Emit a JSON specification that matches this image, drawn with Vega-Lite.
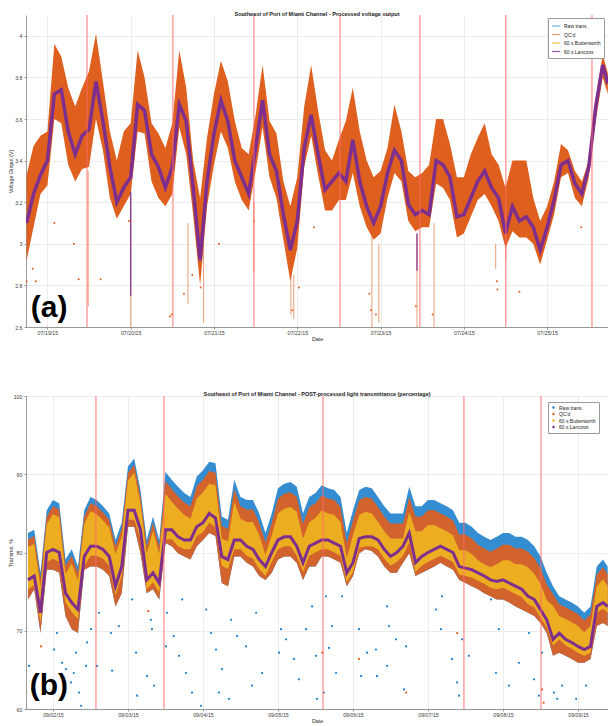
{
"$schema": "https://vega.github.io/schema/vega-lite/v6.json",
"padding": {"left": 8, "top": 11, "right": 0, "bottom": 0},
"spacing": 48,
"config": {
 "font": "Liberation Sans",
 "view": {"stroke": null},
 "title": {"fontSize": 5.5, "fontWeight": "bold", "color": "#1a1a1a", "offset": -3},
 "axis": {"labelFontSize": 5.3, "titleFontSize": 5.3, "titleFontWeight": "normal", "labelColor": "#404040", "titleColor": "#262626", "domainColor": "#808080", "tickColor": "#808080", "tickSize": 2, "labelPadding": 2, "titlePadding": 2, "gridColor": "#e5e5e5", "gridWidth": 0.7, "domainWidth": 0.8, "tickWidth": 0.8},
 "axisX": {"labelPadding": 1.5, "titlePadding": 1},
 "axisY": {"minExtent": 12, "maxExtent": 12, "titlePadding": 1},
 "legend": {"labelFontSize": 5, "labelColor": "#222222", "fillColor": "#ffffff", "strokeColor": "#9a9a9a", "padding": 3, "rowPadding": 0.5, "labelOffset": 3}
},
"resolve": {"scale": {"color": "independent"}},
"datasets": {
 "va": [
{"t":"2015-07-18T18:00Z","lo":2.92,"hi":3.33,"m":3.1},
{"t":"2015-07-18T20:00Z","lo":3.08,"hi":3.47,"m":3.24},
{"t":"2015-07-18T22:00Z","lo":3.24,"hi":3.52,"m":3.33},
{"t":"2015-07-19T00:00Z","lo":3.28,"hi":3.54,"m":3.4},
{"t":"2015-07-19T02:00Z","lo":3.6,"hi":3.96,"m":3.72},
{"t":"2015-07-19T04:00Z","lo":3.58,"hi":3.9,"m":3.74},
{"t":"2015-07-19T06:00Z","lo":3.38,"hi":3.75,"m":3.54},
{"t":"2015-07-19T08:00Z","lo":3.3,"hi":3.66,"m":3.43},
{"t":"2015-07-19T10:00Z","lo":3.36,"hi":3.75,"m":3.52},
{"t":"2015-07-19T12:00Z","lo":3.37,"hi":3.83,"m":3.55},
{"t":"2015-07-19T14:00Z","lo":3.6,"hi":4.01,"m":3.78},
{"t":"2015-07-19T16:00Z","lo":3.45,"hi":3.78,"m":3.59},
{"t":"2015-07-19T18:00Z","lo":3.22,"hi":3.54,"m":3.37},
{"t":"2015-07-19T20:00Z","lo":3.12,"hi":3.4,"m":3.2},
{"t":"2015-07-19T22:00Z","lo":3.18,"hi":3.54,"m":3.27},
{"t":"2015-07-20T00:00Z","lo":3.24,"hi":3.58,"m":3.32},
{"t":"2015-07-20T02:00Z","lo":3.54,"hi":3.93,"m":3.67},
{"t":"2015-07-20T04:00Z","lo":3.53,"hi":3.8,"m":3.64},
{"t":"2015-07-20T06:00Z","lo":3.3,"hi":3.58,"m":3.43},
{"t":"2015-07-20T08:00Z","lo":3.22,"hi":3.53,"m":3.37},
{"t":"2015-07-20T10:00Z","lo":3.18,"hi":3.46,"m":3.27},
{"t":"2015-07-20T12:00Z","lo":3.24,"hi":3.58,"m":3.37},
{"t":"2015-07-20T14:00Z","lo":3.56,"hi":3.93,"m":3.67},
{"t":"2015-07-20T16:00Z","lo":3.43,"hi":3.75,"m":3.59},
{"t":"2015-07-20T18:00Z","lo":3.14,"hi":3.4,"m":3.27},
{"t":"2015-07-20T20:00Z","lo":2.8,"hi":3.22,"m":2.92},
{"t":"2015-07-20T22:00Z","lo":3.18,"hi":3.51,"m":3.3},
{"t":"2015-07-21T00:00Z","lo":3.38,"hi":3.72,"m":3.53},
{"t":"2015-07-21T02:00Z","lo":3.54,"hi":3.88,"m":3.69},
{"t":"2015-07-21T04:00Z","lo":3.46,"hi":3.78,"m":3.59},
{"t":"2015-07-21T06:00Z","lo":3.3,"hi":3.59,"m":3.4},
{"t":"2015-07-21T08:00Z","lo":3.21,"hi":3.46,"m":3.32},
{"t":"2015-07-21T10:00Z","lo":3.16,"hi":3.43,"m":3.24},
{"t":"2015-07-21T12:00Z","lo":3.35,"hi":3.62,"m":3.46},
{"t":"2015-07-21T14:00Z","lo":3.56,"hi":3.86,"m":3.69},
{"t":"2015-07-21T16:00Z","lo":3.32,"hi":3.59,"m":3.43},
{"t":"2015-07-21T18:00Z","lo":3.22,"hi":3.53,"m":3.35},
{"t":"2015-07-21T20:00Z","lo":3.02,"hi":3.3,"m":3.14},
{"t":"2015-07-21T22:00Z","lo":2.82,"hi":3.18,"m":2.97},
{"t":"2015-07-22T00:00Z","lo":2.98,"hi":3.32,"m":3.11},
{"t":"2015-07-22T02:00Z","lo":3.37,"hi":3.66,"m":3.46},
{"t":"2015-07-22T04:00Z","lo":3.52,"hi":3.86,"m":3.62},
{"t":"2015-07-22T06:00Z","lo":3.33,"hi":3.64,"m":3.43},
{"t":"2015-07-22T08:00Z","lo":3.16,"hi":3.45,"m":3.26},
{"t":"2015-07-22T10:00Z","lo":3.16,"hi":3.4,"m":3.3},
{"t":"2015-07-22T12:00Z","lo":3.21,"hi":3.5,"m":3.34},
{"t":"2015-07-22T14:00Z","lo":3.21,"hi":3.59,"m":3.3},
{"t":"2015-07-22T16:00Z","lo":3.34,"hi":3.75,"m":3.5},
{"t":"2015-07-22T18:00Z","lo":3.18,"hi":3.54,"m":3.3},
{"t":"2015-07-22T20:00Z","lo":3.08,"hi":3.4,"m":3.18},
{"t":"2015-07-22T22:00Z","lo":3.02,"hi":3.32,"m":3.1},
{"t":"2015-07-23T00:00Z","lo":3.05,"hi":3.35,"m":3.18},
{"t":"2015-07-23T02:00Z","lo":3.22,"hi":3.46,"m":3.34},
{"t":"2015-07-23T04:00Z","lo":3.34,"hi":3.67,"m":3.45},
{"t":"2015-07-23T06:00Z","lo":3.3,"hi":3.54,"m":3.4},
{"t":"2015-07-23T08:00Z","lo":3.11,"hi":3.35,"m":3.19},
{"t":"2015-07-23T10:00Z","lo":3.06,"hi":3.32,"m":3.14},
{"t":"2015-07-23T12:00Z","lo":3.08,"hi":3.34,"m":3.16},
{"t":"2015-07-23T14:00Z","lo":3.08,"hi":3.38,"m":3.14},
{"t":"2015-07-23T16:00Z","lo":3.29,"hi":3.6,"m":3.4},
{"t":"2015-07-23T18:00Z","lo":3.27,"hi":3.6,"m":3.38},
{"t":"2015-07-23T20:00Z","lo":3.21,"hi":3.48,"m":3.32},
{"t":"2015-07-23T22:00Z","lo":3.03,"hi":3.32,"m":3.13},
{"t":"2015-07-24T00:00Z","lo":3.05,"hi":3.32,"m":3.14},
{"t":"2015-07-24T02:00Z","lo":3.13,"hi":3.43,"m":3.22},
{"t":"2015-07-24T04:00Z","lo":3.21,"hi":3.51,"m":3.3},
{"t":"2015-07-24T06:00Z","lo":3.24,"hi":3.58,"m":3.35},
{"t":"2015-07-24T08:00Z","lo":3.18,"hi":3.43,"m":3.27},
{"t":"2015-07-24T10:00Z","lo":3.11,"hi":3.38,"m":3.22},
{"t":"2015-07-24T12:00Z","lo":2.98,"hi":3.27,"m":3.05},
{"t":"2015-07-24T14:00Z","lo":3.06,"hi":3.4,"m":3.18},
{"t":"2015-07-24T16:00Z","lo":3.03,"hi":3.4,"m":3.11},
{"t":"2015-07-24T18:00Z","lo":3.03,"hi":3.4,"m":3.13},
{"t":"2015-07-24T20:00Z","lo":3.0,"hi":3.22,"m":3.08},
{"t":"2015-07-24T22:00Z","lo":2.9,"hi":3.11,"m":2.97},
{"t":"2015-07-25T00:00Z","lo":3.02,"hi":3.18,"m":3.08},
{"t":"2015-07-25T02:00Z","lo":3.14,"hi":3.3,"m":3.21},
{"t":"2015-07-25T04:00Z","lo":3.32,"hi":3.48,"m":3.38},
{"t":"2015-07-25T06:00Z","lo":3.34,"hi":3.45,"m":3.4},
{"t":"2015-07-25T08:00Z","lo":3.22,"hi":3.35,"m":3.29},
{"t":"2015-07-25T10:00Z","lo":3.18,"hi":3.3,"m":3.24},
{"t":"2015-07-25T12:00Z","lo":3.32,"hi":3.4,"m":3.37},
{"t":"2015-07-25T14:00Z","lo":3.59,"hi":3.7,"m":3.66},
{"t":"2015-07-25T16:00Z","lo":3.8,"hi":3.91,"m":3.86},
{"t":"2015-07-25T17:30Z","lo":3.72,"hi":3.82,"m":3.77}
 ],
 "sa": [
{"t":"2015-07-19T11:45Z","lo":2.7,"hi":3.35},
{"t":"2015-07-20T00:00Z","lo":2.6,"hi":3.22},
{"t":"2015-07-20T16:30Z","lo":2.71,"hi":3.1},
{"t":"2015-07-20T21:00Z","lo":2.62,"hi":3.0},
{"t":"2015-07-21T11:30Z","lo":2.86,"hi":3.2},
{"t":"2015-07-21T22:10Z","lo":2.66,"hi":2.9},
{"t":"2015-07-21T23:00Z","lo":2.64,"hi":2.85},
{"t":"2015-07-22T21:30Z","lo":2.6,"hi":3.05},
{"t":"2015-07-22T23:30Z","lo":2.62,"hi":3.0},
{"t":"2015-07-23T10:30Z","lo":2.6,"hi":3.05},
{"t":"2015-07-23T15:25Z","lo":2.6,"hi":3.1},
{"t":"2015-07-24T09:10Z","lo":2.88,"hi":3.0},
{"t":"2015-07-24T12:05Z","lo":2.92,"hi":3.0}
 ],
 "spa": [
{"t":"2015-07-20T00:00Z","lo":2.75,"hi":3.25},
{"t":"2015-07-23T10:30Z","lo":2.87,"hi":3.05}
 ],
 "oa": [
{"t":"2015-07-18T18:00Z","v":2.82},
{"t":"2015-07-18T19:45Z","v":2.88},
{"t":"2015-07-18T20:40Z","v":2.82},
{"t":"2015-07-19T02:00Z","v":3.1},
{"t":"2015-07-19T07:40Z","v":3.0},
{"t":"2015-07-19T09:00Z","v":2.83},
{"t":"2015-07-19T15:20Z","v":2.83},
{"t":"2015-07-19T23:30Z","v":3.11},
{"t":"2015-07-20T11:20Z","v":2.65},
{"t":"2015-07-20T11:50Z","v":2.66},
{"t":"2015-07-20T15:20Z","v":2.76},
{"t":"2015-07-20T17:45Z","v":2.85},
{"t":"2015-07-20T20:10Z","v":2.79},
{"t":"2015-07-21T01:25Z","v":3.0},
{"t":"2015-07-21T11:30Z","v":3.11},
{"t":"2015-07-21T22:35Z","v":2.68},
{"t":"2015-07-22T00:30Z","v":2.79},
{"t":"2015-07-22T04:50Z","v":3.08},
{"t":"2015-07-22T20:45Z","v":2.76},
{"t":"2015-07-22T21:15Z","v":2.68},
{"t":"2015-07-22T22:40Z","v":2.66},
{"t":"2015-07-23T10:10Z","v":2.7},
{"t":"2015-07-23T15:00Z","v":2.66},
{"t":"2015-07-24T09:30Z","v":2.82},
{"t":"2015-07-24T09:40Z","v":2.78},
{"t":"2015-07-24T16:00Z","v":2.77},
{"t":"2015-07-25T09:50Z","v":3.08}
 ],
 "ra": [
{"t":"2015-07-19T11:25Z"},{"t":"2015-07-20T12:10Z"},{"t":"2015-07-21T11:30Z"},{"t":"2015-07-22T12:20Z"},{"t":"2015-07-23T11:20Z"},{"t":"2015-07-24T12:05Z"},{"t":"2015-07-25T12:55Z"}
 ],
 "la": [{"t":"2015-07-19T00:30Z","v":2.648,"txt":"(a)"}],
 "vb": [
{"t":"2015-09-01T16:00Z","hi":82.5,"qh":81.7,"yh":80.7,"yl":75.3,"m":76.5,"lo":74},
{"t":"2015-09-01T18:00Z","hi":82.9,"qh":82.1,"yh":81.1,"yl":75.8,"m":77,"lo":75.3},
{"t":"2015-09-01T20:00Z","hi":77.4,"qh":76.6,"yh":75.6,"yl":71.1,"m":72.3,"lo":69.7},
{"t":"2015-09-01T22:00Z","hi":85.4,"qh":84.6,"yh":83.6,"yl":78.8,"m":80,"lo":77.8},
{"t":"2015-09-02T00:00Z","hi":86.7,"qh":85.9,"yh":84.9,"yl":79.2,"m":80.4,"lo":77.8},
{"t":"2015-09-02T02:00Z","hi":86.3,"qh":85.5,"yh":84.5,"yl":78.8,"m":80,"lo":77.4},
{"t":"2015-09-02T04:00Z","hi":79.1,"qh":78.3,"yh":77.3,"yl":73.6,"m":74.8,"lo":71.9},
{"t":"2015-09-02T06:00Z","hi":80.4,"qh":79.6,"yh":78.6,"yl":72.4,"m":73.6,"lo":70.2},
{"t":"2015-09-02T08:00Z","hi":78.2,"qh":77.4,"yh":76.4,"yl":71.5,"m":72.7,"lo":69.7},
{"t":"2015-09-02T10:00Z","hi":85.4,"qh":84.6,"yh":83.6,"yl":78.3,"m":79.5,"lo":77.8},
{"t":"2015-09-02T12:00Z","hi":87.1,"qh":86.3,"yh":85.3,"yl":79.6,"m":80.8,"lo":78.2},
{"t":"2015-09-02T14:00Z","hi":86.7,"qh":85.9,"yh":84.9,"yl":79.6,"m":80.8,"lo":78.2},
{"t":"2015-09-02T16:00Z","hi":85.9,"qh":85.1,"yh":84.1,"yl":79.2,"m":80.4,"lo":77.8},
{"t":"2015-09-02T18:00Z","hi":85,"qh":84.2,"yh":83.2,"yl":78.3,"m":79.5,"lo":77},
{"t":"2015-09-02T20:00Z","hi":81.6,"qh":80.8,"yh":79.8,"yl":74.5,"m":75.7,"lo":73.1},
{"t":"2015-09-02T22:00Z","hi":83.8,"qh":83,"yh":82,"yl":77,"m":78.2,"lo":74.8},
{"t":"2015-09-03T00:00Z","hi":91,"qh":90.2,"yh":89.2,"yl":84.2,"m":85.4,"lo":83.3},
{"t":"2015-09-03T02:00Z","hi":92,"qh":91.2,"yh":90.2,"yl":84.2,"m":85.4,"lo":83.3},
{"t":"2015-09-03T04:00Z","hi":88,"qh":87.2,"yh":86.2,"yl":81.7,"m":82.9,"lo":79.9},
{"t":"2015-09-03T06:00Z","hi":81.6,"qh":80.8,"yh":79.8,"yl":75.3,"m":76.5,"lo":74.8},
{"t":"2015-09-03T08:00Z","hi":84.6,"qh":83.8,"yh":82.8,"yl":76.2,"m":77.4,"lo":75.3},
{"t":"2015-09-03T10:00Z","hi":81.6,"qh":80.8,"yh":79.8,"yl":74.9,"m":76.1,"lo":74},
{"t":"2015-09-03T12:00Z","hi":90.3,"qh":89.1,"yh":87.5,"yl":81.7,"m":82.9,"lo":81.2},
{"t":"2015-09-03T14:00Z","hi":89.3,"qh":88.1,"yh":86.5,"yl":81.7,"m":82.9,"lo":80.8},
{"t":"2015-09-03T16:00Z","hi":88.4,"qh":87.2,"yh":85.6,"yl":80.8,"m":82,"lo":79.9},
{"t":"2015-09-03T18:00Z","hi":87.6,"qh":86.4,"yh":84.8,"yl":80.4,"m":81.6,"lo":79.5},
{"t":"2015-09-03T20:00Z","hi":87.1,"qh":85.9,"yh":84.3,"yl":80.4,"m":81.6,"lo":79.1},
{"t":"2015-09-03T22:00Z","hi":89.7,"qh":88.5,"yh":86.9,"yl":82.1,"m":83.3,"lo":80.8},
{"t":"2015-09-04T00:00Z","hi":90.5,"qh":89.3,"yh":87.7,"yl":82.6,"m":83.8,"lo":81.6},
{"t":"2015-09-04T02:00Z","hi":91.6,"qh":90.4,"yh":88.8,"yl":83.8,"m":85,"lo":82.5},
{"t":"2015-09-04T04:00Z","hi":91.4,"qh":90.2,"yh":88.6,"yl":83.2,"m":84.4,"lo":82.1},
{"t":"2015-09-04T06:00Z","hi":84.6,"qh":83.4,"yh":81.8,"yl":78.3,"m":79.5,"lo":76.1},
{"t":"2015-09-04T08:00Z","hi":84.2,"qh":83,"yh":81.4,"yl":77.9,"m":79.1,"lo":75.7},
{"t":"2015-09-04T10:00Z","hi":89.3,"qh":88.1,"yh":86.5,"yl":80.4,"m":81.6,"lo":79.5},
{"t":"2015-09-04T12:00Z","hi":87.1,"qh":85.9,"yh":84.3,"yl":80.4,"m":81.6,"lo":79.5},
{"t":"2015-09-04T14:00Z","hi":86.7,"qh":85.5,"yh":83.9,"yl":79.6,"m":80.8,"lo":78.7},
{"t":"2015-09-04T16:00Z","hi":86.7,"qh":85.5,"yh":83.9,"yl":79.2,"m":80.4,"lo":78.2},
{"t":"2015-09-04T18:00Z","hi":85,"qh":83.8,"yh":82.2,"yl":77.9,"m":79.1,"lo":77},
{"t":"2015-09-04T20:00Z","hi":82.5,"qh":81.3,"yh":79.7,"yl":77,"m":78.2,"lo":76.5},
{"t":"2015-09-04T22:00Z","hi":85,"qh":83.8,"yh":82.2,"yl":78.8,"m":80,"lo":77.4},
{"t":"2015-09-05T00:00Z","hi":88.2,"qh":86.9,"yh":85,"yl":80.4,"m":81.6,"lo":79.1},
{"t":"2015-09-05T02:00Z","hi":88.8,"qh":87.5,"yh":85.6,"yl":80.8,"m":82,"lo":79.5},
{"t":"2015-09-05T04:00Z","hi":89,"qh":87.7,"yh":85.8,"yl":80.8,"m":82,"lo":79.5},
{"t":"2015-09-05T06:00Z","hi":88.4,"qh":87.1,"yh":85.2,"yl":79.6,"m":80.8,"lo":78.7},
{"t":"2015-09-05T08:00Z","hi":85,"qh":83.7,"yh":81.8,"yl":77.5,"m":78.7,"lo":76.5},
{"t":"2015-09-05T10:00Z","hi":87.1,"qh":85.8,"yh":83.9,"yl":79.6,"m":80.8,"lo":78.2},
{"t":"2015-09-05T12:00Z","hi":87.6,"qh":86.3,"yh":84.4,"yl":80,"m":81.2,"lo":78.2},
{"t":"2015-09-05T14:00Z","hi":88.6,"qh":87.3,"yh":85.4,"yl":80.4,"m":81.6,"lo":79.5},
{"t":"2015-09-05T16:00Z","hi":88.2,"qh":86.9,"yh":85,"yl":80.4,"m":81.6,"lo":79.5},
{"t":"2015-09-05T18:00Z","hi":88,"qh":86.7,"yh":84.8,"yl":80,"m":81.2,"lo":79.1},
{"t":"2015-09-05T20:00Z","hi":87.1,"qh":85.8,"yh":83.9,"yl":79.6,"m":80.8,"lo":78.7},
{"t":"2015-09-05T22:00Z","hi":82.5,"qh":81.2,"yh":79.3,"yl":76.2,"m":77.4,"lo":75.7},
{"t":"2015-09-06T00:00Z","hi":85.4,"qh":84.1,"yh":82.2,"yl":77.5,"m":78.7,"lo":77},
{"t":"2015-09-06T02:00Z","hi":88,"qh":86.7,"yh":84.8,"yl":80.6,"m":81.8,"lo":79.9},
{"t":"2015-09-06T04:00Z","hi":88.4,"qh":87.1,"yh":85.2,"yl":80.8,"m":82,"lo":80.4},
{"t":"2015-09-06T06:00Z","hi":88.2,"qh":86.9,"yh":85,"yl":80.8,"m":82,"lo":80.2},
{"t":"2015-09-06T08:00Z","hi":87.1,"qh":85.8,"yh":83.9,"yl":80.4,"m":81.6,"lo":79.5},
{"t":"2015-09-06T10:00Z","hi":85.9,"qh":84.6,"yh":82.7,"yl":79.2,"m":80.4,"lo":78.2},
{"t":"2015-09-06T12:00Z","hi":85,"qh":83.7,"yh":81.8,"yl":78.3,"m":79.5,"lo":77.4},
{"t":"2015-09-06T14:00Z","hi":85,"qh":83.7,"yh":81.8,"yl":78.8,"m":80,"lo":77.4},
{"t":"2015-09-06T16:00Z","hi":85,"qh":83.7,"yh":81.8,"yl":79.6,"m":80.8,"lo":78.7},
{"t":"2015-09-06T18:00Z","hi":88.4,"qh":87.1,"yh":85.2,"yl":81.3,"m":82.5,"lo":79.9},
{"t":"2015-09-06T20:00Z","hi":85.9,"qh":84.6,"yh":82.7,"yl":77.5,"m":78.7,"lo":77},
{"t":"2015-09-06T22:00Z","hi":85.9,"qh":84.6,"yh":82.7,"yl":78.3,"m":79.5,"lo":77.4},
{"t":"2015-09-07T00:00Z","hi":86.7,"qh":85.4,"yh":83.5,"yl":78.8,"m":80,"lo":77.8},
{"t":"2015-09-07T02:00Z","hi":86.7,"qh":85.4,"yh":83.5,"yl":79.2,"m":80.4,"lo":78.2},
{"t":"2015-09-07T04:00Z","hi":86.3,"qh":85,"yh":83.1,"yl":79.6,"m":80.8,"lo":78.7},
{"t":"2015-09-07T06:00Z","hi":85.9,"qh":84.6,"yh":82.7,"yl":79.2,"m":80.4,"lo":78.2},
{"t":"2015-09-07T08:00Z","hi":85.4,"qh":84.1,"yh":82.2,"yl":78.8,"m":80,"lo":77.8},
{"t":"2015-09-07T10:00Z","hi":83.8,"qh":82.3,"yh":80.3,"yl":77.2,"m":78.2,"lo":76.5},
{"t":"2015-09-07T12:00Z","hi":83.8,"qh":82.3,"yh":80.3,"yl":77,"m":78,"lo":76.1},
{"t":"2015-09-07T14:00Z","hi":83.3,"qh":81.8,"yh":79.8,"yl":76.8,"m":77.8,"lo":75.7},
{"t":"2015-09-07T16:00Z","hi":82.5,"qh":81,"yh":79,"yl":76.4,"m":77.4,"lo":75.3},
{"t":"2015-09-07T18:00Z","hi":82,"qh":80.5,"yh":78.5,"yl":76,"m":77,"lo":74.8},
{"t":"2015-09-07T20:00Z","hi":81.6,"qh":80.1,"yh":78.1,"yl":75.5,"m":76.5,"lo":74.4},
{"t":"2015-09-07T22:00Z","hi":82,"qh":80.5,"yh":78.5,"yl":75.3,"m":76.3,"lo":74},
{"t":"2015-09-08T00:00Z","hi":82.5,"qh":81,"yh":79,"yl":75.5,"m":76.5,"lo":74},
{"t":"2015-09-08T02:00Z","hi":82.5,"qh":81,"yh":79,"yl":75.1,"m":76.1,"lo":73.6},
{"t":"2015-09-08T04:00Z","hi":82,"qh":80.5,"yh":78.5,"yl":74.7,"m":75.7,"lo":73.1},
{"t":"2015-09-08T06:00Z","hi":82,"qh":80.5,"yh":78.5,"yl":74.3,"m":75.3,"lo":72.7},
{"t":"2015-09-08T08:00Z","hi":81.6,"qh":80.1,"yh":78.1,"yl":73.4,"m":74.4,"lo":72.3},
{"t":"2015-09-08T10:00Z","hi":80.8,"qh":79.3,"yh":77.3,"yl":73,"m":74,"lo":71.9},
{"t":"2015-09-08T12:00Z","hi":79.5,"qh":78,"yh":76,"yl":71.7,"m":72.7,"lo":71},
{"t":"2015-09-08T14:00Z","hi":77.4,"qh":75.9,"yh":73.9,"yl":70.4,"m":71.4,"lo":69.7},
{"t":"2015-09-08T16:00Z","hi":75.7,"qh":74.7,"yh":73.2,"yl":68.1,"m":68.9,"lo":66.8},
{"t":"2015-09-08T18:00Z","hi":74.4,"qh":73.4,"yh":71.9,"yl":68.9,"m":69.7,"lo":67.2},
{"t":"2015-09-08T20:00Z","hi":74,"qh":73,"yh":71.5,"yl":68.1,"m":68.9,"lo":66.8},
{"t":"2015-09-08T22:00Z","hi":73.6,"qh":72.6,"yh":71.1,"yl":67.7,"m":68.5,"lo":66.4},
{"t":"2015-09-09T00:00Z","hi":73.1,"qh":72.1,"yh":70.6,"yl":67.2,"m":68,"lo":65.9},
{"t":"2015-09-09T02:00Z","hi":72.3,"qh":71.3,"yh":69.8,"yl":66.8,"m":67.6,"lo":65.9},
{"t":"2015-09-09T04:00Z","hi":73.1,"qh":72.1,"yh":70.6,"yl":67.2,"m":68,"lo":66.4},
{"t":"2015-09-09T06:00Z","hi":78.2,"qh":77.2,"yh":75.7,"yl":72.3,"m":73.1,"lo":70.6},
{"t":"2015-09-09T08:00Z","hi":79.1,"qh":78.1,"yh":76.6,"yl":72.8,"m":73.6,"lo":71},
{"t":"2015-09-09T09:30Z","hi":78.2,"qh":77.2,"yh":75.7,"yl":72.3,"m":73.1,"lo":70.6}
 ],
 "ob": [
{"t":"2015-09-01T16:20Z","v":65.5},{"t":"2015-09-01T17:20Z","v":62.5},{"t":"2015-09-02T00:20Z","v":67.6},{"t":"2015-09-02T01:15Z","v":69.7},
{"t":"2015-09-02T02:55Z","v":65.9},{"t":"2015-09-02T04:10Z","v":65.1},{"t":"2015-09-02T05:45Z","v":63.4},{"t":"2015-09-02T06:40Z","v":64.6},
{"t":"2015-09-02T07:20Z","v":67.2},{"t":"2015-09-02T08:20Z","v":62.1},{"t":"2015-09-02T09:00Z","v":60.4},{"t":"2015-09-02T10:35Z","v":65.5},
{"t":"2015-09-02T10:55Z","v":68.5},{"t":"2015-09-02T12:10Z","v":70.2},{"t":"2015-09-02T14:05Z","v":65.5},{"t":"2015-09-02T14:45Z","v":72.3},
{"t":"2015-09-02T18:35Z","v":69.7},{"t":"2015-09-02T18:55Z","v":64.9},{"t":"2015-09-02T21:05Z","v":70.6},{"t":"2015-09-03T01:20Z","v":74},
{"t":"2015-09-03T02:35Z","v":67.2},{"t":"2015-09-03T02:55Z","v":61.7},{"t":"2015-09-03T06:05Z","v":64.2},{"t":"2015-09-03T07:20Z","v":71.4},
{"t":"2015-09-03T07:40Z","v":70.2},{"t":"2015-09-03T08:20Z","v":63},{"t":"2015-09-03T12:10Z","v":68},{"t":"2015-09-03T12:30Z","v":72.3},
{"t":"2015-09-03T14:40Z","v":69.3},{"t":"2015-09-03T16:20Z","v":66.8},{"t":"2015-09-03T17:20Z","v":74},{"t":"2015-09-03T18:35Z","v":64.6},
{"t":"2015-09-03T20:30Z","v":62.1},{"t":"2015-09-03T23:20Z","v":60.4},{"t":"2015-09-04T01:00Z","v":72.7},{"t":"2015-09-04T02:35Z","v":69.7},
{"t":"2015-09-04T04:10Z","v":67.6},{"t":"2015-09-04T05:05Z","v":62.1},{"t":"2015-09-04T06:05Z","v":65.1},{"t":"2015-09-04T08:20Z","v":61.3},
{"t":"2015-09-04T09:00Z","v":71.4},{"t":"2015-09-04T10:55Z","v":69.3},{"t":"2015-09-04T13:45Z","v":68},{"t":"2015-09-04T15:40Z","v":63},
{"t":"2015-09-04T17:00Z","v":72.3},{"t":"2015-09-04T18:55Z","v":64.6},{"t":"2015-09-05T00:20Z","v":67.2},{"t":"2015-09-05T01:00Z","v":70.2},
{"t":"2015-09-05T02:35Z","v":68.9},{"t":"2015-09-05T05:05Z","v":66.4},{"t":"2015-09-05T06:40Z","v":63.8},{"t":"2015-09-05T09:00Z","v":70.2},
{"t":"2015-09-05T10:55Z","v":73.1},{"t":"2015-09-05T12:10Z","v":66.8},{"t":"2015-09-05T12:30Z","v":61.3},{"t":"2015-09-05T14:40Z","v":62.1},
{"t":"2015-09-05T15:20Z","v":74.4},{"t":"2015-09-05T16:20Z","v":67.8},{"t":"2015-09-05T17:20Z","v":70.6},{"t":"2015-09-05T18:35Z","v":64.6},
{"t":"2015-09-05T20:30Z","v":74.4},{"t":"2015-09-06T01:55Z","v":70.2},{"t":"2015-09-06T02:35Z","v":64.2},{"t":"2015-09-06T04:30Z","v":67.2},
{"t":"2015-09-06T07:20Z","v":67.6},{"t":"2015-09-06T07:40Z","v":64.2},{"t":"2015-09-06T10:55Z","v":73.1},{"t":"2015-09-06T10:55Z","v":65.5},
{"t":"2015-09-06T11:30Z","v":70.6},{"t":"2015-09-06T13:45Z","v":68.9},{"t":"2015-09-06T16:20Z","v":62.5},{"t":"2015-09-06T17:00Z","v":68},
{"t":"2015-09-07T02:35Z","v":72.7},{"t":"2015-09-07T04:10Z","v":70.2},{"t":"2015-09-07T04:30Z","v":74.4},{"t":"2015-09-07T07:40Z","v":66.4},
{"t":"2015-09-07T09:20Z","v":63.4},{"t":"2015-09-07T09:55Z","v":61.7},{"t":"2015-09-07T10:55Z","v":68.9},{"t":"2015-09-07T13:05Z","v":66.8},
{"t":"2015-09-07T20:10Z","v":74},{"t":"2015-09-07T21:45Z","v":64.6},{"t":"2015-09-07T22:40Z","v":70.2},{"t":"2015-09-08T01:55Z","v":63},
{"t":"2015-09-08T05:05Z","v":65.9},{"t":"2015-09-08T08:20Z","v":69.7},{"t":"2015-09-08T09:55Z","v":63.8},{"t":"2015-09-08T11:30Z","v":61.7},
{"t":"2015-09-08T12:30Z","v":67.2},{"t":"2015-09-08T16:20Z","v":62.1},{"t":"2015-09-08T17:20Z","v":61.3},{"t":"2015-09-08T18:55Z","v":63},
{"t":"2015-09-08T23:25Z","v":61.3},{"t":"2015-09-09T02:35Z","v":63}
 ],
 "oob": [
{"t":"2015-09-01T20:10Z","v":68},{"t":"2015-09-03T06:30Z","v":72.5},{"t":"2015-09-05T14:10Z","v":67.2},{"t":"2015-09-06T01:55Z","v":66.4},
{"t":"2015-09-06T17:00Z","v":62.1},{"t":"2015-09-07T09:20Z","v":69.7},{"t":"2015-09-08T12:30Z","v":62.5},{"t":"2015-09-08T13:00Z","v":60.8}
 ],
 "rb": [
{"t":"2015-09-02T13:45Z"},{"t":"2015-09-03T11:30Z"},{"t":"2015-09-05T14:25Z"},{"t":"2015-09-07T11:30Z"},{"t":"2015-09-08T12:10Z"}
 ],
 "lb": [{"t":"2015-09-01T22:40Z","v":61.8,"txt":"(b)"}]
},
"vconcat": [
 {
  "title": "Southeast of Port of Miami Channel - Processed voltage output",
  "width": 582, "height": 312,
  "layer": [
   {"data": {"name": "va"}, "mark": {"type": "area", "color": "#DF5F1E", "clip": true},
    "encoding": {
     "x": {"field": "t", "type": "temporal", "scale": {"type": "utc", "domain": [{"year":2015,"month":7,"date":18,"hours":17,"minutes":50,"utc":true},{"year":2015,"month":7,"date":25,"hours":17,"minutes":32,"utc":true}]},
       "axis": {"title": "Date", "labelExpr": "utcFormat(datum.value, '%m/%d/%y')", "grid": true, "values": [{"year":2015,"month":7,"date":19,"utc":true},{"year":2015,"month":7,"date":20,"utc":true},{"year":2015,"month":7,"date":21,"utc":true},{"year":2015,"month":7,"date":22,"utc":true},{"year":2015,"month":7,"date":23,"utc":true},{"year":2015,"month":7,"date":24,"utc":true},{"year":2015,"month":7,"date":25,"utc":true}]}},
     "y": {"field": "lo", "type": "quantitative", "scale": {"domain": [2.6, 4.1], "nice": false, "zero": false},
       "axis": {"title": "Voltage Output (V)", "grid": true, "format": "~g", "values": [2.6,2.8,3,3.2,3.4,3.6,3.8,4]}},
     "y2": {"field": "hi"}
    }},
   {"data": {"name": "sa"}, "mark": {"type": "rule", "color": "#E0662A", "strokeWidth": 0.8, "opacity": 0.8, "clip": true},
    "encoding": {"x": {"field": "t", "type": "temporal"}, "y": {"field": "lo", "type": "quantitative"}, "y2": {"field": "hi"}}},
   {"data": {"name": "oa"}, "mark": {"type": "point", "filled": true, "size": 4, "color": "#DF5F1E", "opacity": 1, "clip": true},
    "encoding": {"x": {"field": "t", "type": "temporal"}, "y": {"field": "v", "type": "quantitative"}}},
   {"data": {"name": "va"}, "mark": {"type": "line", "strokeWidth": 3.5, "clip": true},
    "encoding": {"x": {"field": "t", "type": "temporal"}, "y": {"field": "m", "type": "quantitative"},
     "color": {"datum": "60 s Lanczos", "type": "nominal",
       "scale": {"domain": ["Raw trans.", "QC'd", "60 s Butterworth", "60 s Lanczos"], "range": ["#4DA6E0", "#E8804A", "#EDB120", "#7E2F8E"]},
       "legend": {"orient": "none", "legendX": 522, "legendY": 3, "title": null, "symbolType": "stroke", "symbolSize": 64, "symbolStrokeWidth": 1.2, "symbolOpacity": 0.8}}}},
   {"data": {"name": "spa"}, "mark": {"type": "rule", "color": "#7E2F8E", "strokeWidth": 1.2, "clip": true},
    "encoding": {"x": {"field": "t", "type": "temporal"}, "y": {"field": "lo", "type": "quantitative"}, "y2": {"field": "hi"}}},
   {"data": {"name": "ra"}, "mark": {"type": "rule", "color": "#FF6A6A", "strokeWidth": 1.1, "opacity": 0.85},
    "encoding": {"x": {"field": "t", "type": "temporal"}}},
   {"data": {"name": "la"}, "mark": {"type": "text", "fontSize": 30, "fontWeight": "bold", "align": "center", "baseline": "alphabetic", "color": "#000000"},
    "encoding": {"x": {"field": "t", "type": "temporal"}, "y": {"field": "v", "type": "quantitative"}, "text": {"field": "txt"}}}
  ]
 },
 {
  "title": "Southeast of Port of Miami Channel - POST-processed light transmittance (percentage)",
  "width": 582, "height": 313,
  "layer": [
   {"data": {"name": "vb"}, "mark": {"type": "area", "color": "#1E80CC", "opacity": 0.9, "clip": true},
    "encoding": {
     "x": {"field": "t", "type": "temporal", "scale": {"type": "utc", "domain": [{"year":2015,"month":9,"date":1,"hours":15,"minutes":22,"utc":true},{"year":2015,"month":9,"date":9,"hours":9,"minutes":36,"utc":true}]},
       "axis": {"title": "Date", "labelExpr": "utcFormat(datum.value, '%m/%d/%y')", "grid": true, "values": [{"year":2015,"month":9,"date":2,"utc":true},{"year":2015,"month":9,"date":3,"utc":true},{"year":2015,"month":9,"date":4,"utc":true},{"year":2015,"month":9,"date":5,"utc":true},{"year":2015,"month":9,"date":6,"utc":true},{"year":2015,"month":9,"date":7,"utc":true},{"year":2015,"month":9,"date":8,"utc":true},{"year":2015,"month":9,"date":9,"utc":true}]}},
     "y": {"field": "lo", "type": "quantitative", "scale": {"domain": [60, 100], "nice": false, "zero": false},
       "axis": {"title": "Transmit. %", "grid": true, "values": [60,65,70,75,80,85,90,95,100]}},
     "y2": {"field": "hi"}
    }},
   {"data": {"name": "vb"}, "mark": {"type": "area", "color": "#E0601E", "opacity": 0.92, "clip": true},
    "encoding": {"x": {"field": "t", "type": "temporal"}, "y": {"field": "lo", "type": "quantitative"}, "y2": {"field": "qh"}}},
   {"data": {"name": "vb"}, "mark": {"type": "area", "color": "#EDB120", "opacity": 0.95, "clip": true},
    "encoding": {"x": {"field": "t", "type": "temporal"}, "y": {"field": "yl", "type": "quantitative"}, "y2": {"field": "yh"}}},
   {"data": {"name": "ob"}, "mark": {"type": "point", "filled": true, "size": 5, "opacity": 1, "clip": true},
    "encoding": {"x": {"field": "t", "type": "temporal"}, "y": {"field": "v", "type": "quantitative"},
     "color": {"datum": "Raw trans.", "type": "nominal",
       "scale": {"domain": ["Raw trans.", "QC'd", "60 s Butterworth", "60 s Lanczos"], "range": ["#1E80CC", "#E0601E", "#EDB120", "#7E2F8E"]},
       "legend": {"orient": "none", "legendX": 522, "legendY": 6, "title": null, "symbolType": "circle", "symbolSize": 6}}}},
   {"data": {"name": "oob"}, "mark": {"type": "point", "filled": true, "size": 5, "color": "#E0601E", "opacity": 1, "clip": true},
    "encoding": {"x": {"field": "t", "type": "temporal"}, "y": {"field": "v", "type": "quantitative"}}},
   {"data": {"name": "vb"}, "mark": {"type": "line", "color": "#7E2F8E", "strokeWidth": 3, "clip": true},
    "encoding": {"x": {"field": "t", "type": "temporal"}, "y": {"field": "m", "type": "quantitative"}}},
   {"data": {"name": "rb"}, "mark": {"type": "rule", "color": "#FF6A6A", "strokeWidth": 1.1, "opacity": 0.85},
    "encoding": {"x": {"field": "t", "type": "temporal"}}},
   {"data": {"name": "lb"}, "mark": {"type": "text", "fontSize": 30, "fontWeight": "bold", "align": "center", "baseline": "alphabetic", "color": "#000000"},
    "encoding": {"x": {"field": "t", "type": "temporal"}, "y": {"field": "v", "type": "quantitative"}, "text": {"field": "txt"}}}
  ]
 }
]
}
